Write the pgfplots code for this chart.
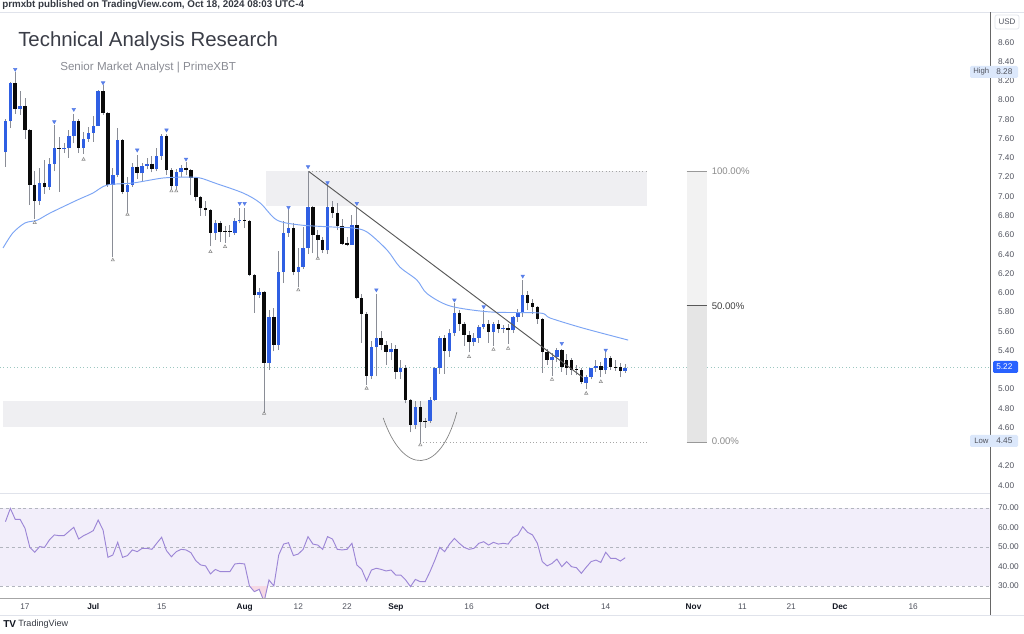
\documentclass[border=0pt]{standalone}
\usepackage{fontspec}
\setmainfont{Liberation Sans}
\usepackage{pgfplots}
\pgfplotsset{compat=1.18}
\usepackage{pgfplotstable}

\definecolor{upc}{HTML}{2F5FE3}
\definecolor{dnc}{HTML}{0A0A0A}
\definecolor{wick}{HTML}{8A8D96}
\definecolor{ma}{HTML}{7BA4F4}
\definecolor{rsic}{HTML}{9C86D6}
\definecolor{rsifill}{HTML}{F2EEFA}
\definecolor{rsipink}{HTML}{F6D9E4}
\definecolor{zone}{HTML}{EFEFF2}
\definecolor{txt}{HTML}{131722}
\definecolor{lbl}{HTML}{50535E}
\definecolor{ttl}{HTML}{3A3D47}
\definecolor{sub}{HTML}{8A8C94}
\definecolor{dashc}{HTML}{B2B5BE}
\definecolor{sep}{HTML}{E0E3EB}
\definecolor{hlbox}{HTML}{DCE8FB}
\definecolor{pricebox}{HTML}{2962FF}
\definecolor{curline}{HTML}{9CC7C0}

% d O H L C
\pgfplotstableread{
d O H L C
-4 7.46 7.80 7.31 7.78
-3 7.78 8.19 7.71 8.18
-1 7.91 8.09 7.85 7.94
3 6.95 7.29 6.91 7.14
5 7.10 7.40 7.07 7.34
6 7.34 7.74 7.26 7.50
8 7.49 7.55 7.45 7.502
9 7.50 7.69 7.40 7.63
10 7.63 7.86 7.55 7.78
12 7.50 7.67 7.44 7.60
13 7.60 7.72 7.57 7.66
14 7.66 7.83 7.57 7.73
15 7.73 8.10 7.73 8.09
18 7.12 7.30 6.37 7.22
19 7.22 7.71 7.20 7.585
21 7.05 7.20 6.84 7.12
22 7.12 7.35 7.10 7.31
24 7.24 7.35 7.15 7.315
25 7.315 7.40 7.28 7.34
27 7.28 7.50 7.26 7.42
28 7.42 7.65 7.38 7.63
31 7.11 7.28 7.08 7.25
32 7.25 7.33 7.20 7.30
39 6.62 6.76 6.55 6.72
43 6.62 6.78 6.60 6.74
44 6.74 6.88 6.72 6.755
48 5.98 6.05 5.95 6.01
50 5.27 5.82 5.20 5.75
52 5.46 6.43 5.41 6.22
53 6.22 6.74 6.10 6.62
54 6.62 6.88 6.58 6.67
56 6.22 6.46 6.06 6.27
57 6.27 6.68 6.25 6.46
58 6.46 7.26 6.40 6.89
62 6.44 7.15 6.40 6.89
67 6.50 6.81 6.50 6.70
71 5.13 5.50 5.10 5.44
72 5.44 5.99 5.13 5.525
75 5.38 5.48 5.30 5.42
77 5.18 5.30 5.10 5.22
80 4.63 4.88 4.58 4.81
83 4.67 4.92 4.65 4.89
84 4.89 5.23 4.88 5.22
85 5.22 5.55 5.16 5.525
87 5.39 5.62 5.33 5.58
88 5.58 5.89 5.55 5.785
92 5.49 5.58 5.45 5.53
93 5.53 5.66 5.48 5.647
94 5.647 5.82 5.62 5.68
96 5.595 5.70 5.45 5.67
98 5.62 5.66 5.58 5.632
100 5.61 5.76 5.58 5.744
101 5.744 5.83 5.70 5.785
102 5.785 6.13 5.75 5.98
108 5.30 5.37 5.14 5.335
109 5.335 5.43 5.28 5.404
115 5.065 5.15 5.00 5.128
116 5.128 5.22 5.10 5.214
117 5.214 5.30 5.18 5.24
119 5.197 5.38 5.16 5.318
123 5.19 5.26 5.17 5.22
}\upc

\pgfplotstableread{
d O H L C
-2 8.18 8.29 7.86 7.91
0 7.94 8.02 7.60 7.69
1 7.69 7.70 6.91 7.12
2 7.12 7.26 6.77 6.95
4 7.14 7.38 7.03 7.10
7 7.50 7.62 7.05 7.488
11 7.78 7.80 7.45 7.50
16 8.09 8.16 7.85 7.87
17 7.87 7.88 7.10 7.12
20 7.585 7.60 7.03 7.05
23 7.31 7.43 7.18 7.24
26 7.34 7.42 7.25 7.28
29 7.63 7.65 7.22 7.27
30 7.27 7.30 7.08 7.11
33 7.30 7.36 7.22 7.27
34 7.27 7.28 7.01 7.19
35 7.19 7.20 6.95 6.99
36 6.99 7.00 6.80 6.88
37 6.88 6.95 6.80 6.86
38 6.86 6.87 6.48 6.62
40 6.72 6.74 6.53 6.63
41 6.642 6.69 6.52 6.63
42 6.642 6.70 6.58 6.63
45 6.755 6.88 6.67 6.74
46 6.745 6.76 6.17 6.18
47 6.18 6.19 5.79 5.98
49 6.01 6.02 4.75 5.27
51 5.75 5.84 5.39 5.46
55 6.67 6.72 6.18 6.22
59 6.89 6.90 6.41 6.60
60 6.60 6.65 6.36 6.55
61 6.55 6.58 6.41 6.44
63 6.89 6.95 6.78 6.83
64 6.83 6.93 6.65 6.69
65 6.69 6.77 6.50 6.51
66 6.52 6.58 6.48 6.50
68 6.70 6.89 5.93 5.94
69 5.94 5.99 5.48 5.78
70 5.78 5.80 5.04 5.13
73 5.525 5.60 5.40 5.46
74 5.46 5.50 5.25 5.38
76 5.42 5.46 5.10 5.18
78 5.22 5.25 4.85 4.89
79 4.89 4.90 4.55 4.63
81 4.81 4.88 4.45 4.66
82 4.672 4.70 4.60 4.66
86 5.525 5.56 5.16 5.39
89 5.785 5.82 5.60 5.68
90 5.68 5.70 5.45 5.56
91 5.56 5.60 5.38 5.49
95 5.68 5.72 5.48 5.595
97 5.67 5.72 5.58 5.62
99 5.632 5.67 5.47 5.61
103 5.98 6.02 5.82 5.89
104 5.89 5.93 5.78 5.855
105 5.855 5.86 5.68 5.723
106 5.723 5.74 5.17 5.387
107 5.387 5.42 5.25 5.30
110 5.404 5.42 5.18 5.23
111 5.30 5.36 5.15 5.214
112 5.30 5.32 5.15 5.197
113 5.207 5.25 5.15 5.195
114 5.197 5.22 5.05 5.076
118 5.24 5.28 5.12 5.20
120 5.318 5.34 5.20 5.225
121 5.232 5.30 5.19 5.22
122 5.23 5.27 5.12 5.19
}\dnc

\pgfplotstableread{
d p
-4.5 6.464
-2.5 6.62
0 6.724
2.5 6.753
5.1 6.826
10.7 6.962
13.9 7.034
16.8 7.118
22.1 7.139
28.3 7.191
33.2 7.200
35.9 7.191
38.9 7.139
44.7 7.035
48.2 6.931
51.6 6.755
56.4 6.703
63.1 6.682
67.2 6.672
70.1 6.630
74.2 6.443
76.8 6.267
80.3 6.132
82.4 5.990
87.1 5.862
95.3 5.800
105.5 5.789
107.6 5.737
114.3 5.633
123.6 5.508
}\matab

\pgfplotstableread{
d p
-2 8.32
6 7.776
10 7.904
16 8.18
23 7.482
29 7.69
33 7.388
44 6.928
45 6.928
54 6.886
58 7.309
62 7.143
68 6.928
72 6.03
88 5.924
94 5.854
102 6.173
110 5.474
119 5.404
}\hitab

\pgfplotstableread{
d p
2 6.727
12 7.385
18 6.339
21 6.814
30 7.056
31 7.056
38 6.426
41 6.478
49 4.747
56 6.028
60 6.357
70 5.007
81 4.42
91 5.335
96 5.411
99 5.422
108 5.10
115 4.955
118 5.076
}\lotab

\pgfplotstableread{
d r
-4 63.0
-3 69.8
-2 64.2
-1 64.2
0 59.6
1 49.8
2 47.3
3 50.2
4 49.8
5 53.6
6 56.2
7 55.8
8 55.8
9 58.0
10 60.1
11 54.1
12 55.8
13 57.0
14 58.4
15 63.8
16 58.7
17 44.7
18 45.9
19 52.4
20 44.7
21 45.6
22 48.5
23 47.6
24 49.3
25 49.3
26 48.8
27 51.9
28 55.0
29 48.1
30 45.0
31 47.6
32 48.8
33 48.5
34 47.1
35 43.0
36 40.8
37 40.3
38 36.2
39 38.5
40 37.4
41 37.4
42 37.4
43 41.3
44 41.6
45 41.3
46 30.0
47 27.1
48 28.3
49 22.0
50 33.1
51 30.0
52 45.9
53 51.5
54 52.2
55 45.6
56 46.4
57 48.8
58 55.3
59 51.5
60 51.0
61 48.8
62 55.3
63 54.1
64 48.8
65 48.5
66 48.8
67 51.9
68 40.8
69 38.5
70 32.6
71 38.2
72 39.1
73 38.5
74 37.7
75 38.2
76 35.6
77 35.6
78 33.1
79 29.7
80 33.4
81 32.2
82 32.2
83 37.4
84 43.3
85 49.8
86 47.6
87 51.5
88 54.4
89 51.9
90 49.8
91 48.8
92 49.3
93 51.9
94 52.7
95 51.0
96 52.4
97 51.5
98 51.9
99 51.5
100 54.8
101 56.2
102 60.4
103 57.5
104 56.2
105 51.9
106 42.5
107 40.3
108 41.6
109 43.8
110 39.9
111 42.5
112 39.9
113 39.4
114 36.5
115 39.6
116 42.5
117 43.3
118 42.1
119 47.3
120 44.2
121 44.2
122 42.8
123 44.5
}\rsitab

\begin{document}
\begin{tikzpicture}
\useasboundingbox (0,0) rectangle (768pt,475.5pt);
\fill[white] (0,0) rectangle (768pt,475.5pt);

% ---------------- price pane ----------------
\begin{axis}[
  at={(0pt,105.75pt)}, anchor=south west,
  width=742.5pt, height=360.75pt, scale only axis,
  xmin=-5.12, xmax=197.75, ymin=3.92, ymax=8.915,
  axis line style={draw=none},
  xtick=\empty,
  ytick={4.0,4.2,4.6,4.8,5.0,5.4,5.6,5.8,6.0,6.2,6.4,6.6,6.8,7.0,7.2,7.4,7.6,7.8,8.0,8.2,8.4,8.6},
  yticklabels={4.00,4.20,4.60,4.80,5.00,5.40,5.60,5.80,6.00,6.20,6.40,6.60,6.80,7.00,7.20,7.40,7.60,7.80,8.00,8.20,8.40,8.60},
  yticklabel pos=right,
  major tick length=0pt,
  yticklabel style={font=\fontsize{6.2}{7}\selectfont, text=lbl, anchor=west, xshift=2.5pt},
  /pgf/number format/assume math mode=true,
  clip=true,
]
% zones
\fill[zone] (axis cs:49.4,6.90) rectangle (axis cs:127.5,7.264);
\fill[zone] (axis cs:-4.5,4.605) rectangle (axis cs:123.6,4.875);
\draw[gray!70, dotted, line width=0.5pt] (axis cs:58.2,7.264) -- (axis cs:127.5,7.264);
\draw[gray!70, dotted, line width=0.5pt] (axis cs:80.9,4.45) -- (axis cs:128,4.45);
\draw[curline, dotted, line width=0.6pt] (axis cs:-5.12,5.22) -- (axis cs:197.75,5.22);

% gauge
\fill[black!5] (axis cs:135.6,5.864) rectangle (axis cs:139.7,7.264);
\fill[black!10] (axis cs:135.6,4.45) rectangle (axis cs:139.7,5.864);
\draw[black!40, line width=0.6pt] (axis cs:135.6,7.264) -- (axis cs:139.7,7.264);
\draw[black!40, line width=0.6pt] (axis cs:135.6,4.45) -- (axis cs:139.7,4.45);
\draw[black!65, line width=0.7pt] (axis cs:135.6,5.864) -- (axis cs:139.7,5.864);

% wicks
\addplot[wick, line width=0.7pt, quiver={u=0, v=\thisrow{H}-\thisrow{L}}] table[x=d, y=L] {\upc};
\addplot[wick, line width=0.7pt, quiver={u=0, v=\thisrow{H}-\thisrow{L}}] table[x=d, y=L] {\dnc};
% bodies
\addplot[upc, line width=2.6pt, quiver={u=0, v=\thisrow{C}-\thisrow{O}}] table[x=d, y=O] {\upc};
\addplot[dnc, line width=2.6pt, quiver={u=0, v=\thisrow{C}-\thisrow{O}}] table[x=d, y=O] {\dnc};

% moving average
\addplot[ma, line width=0.7pt, smooth] table[x=d, y=p] {\matab};

% trend line
\draw[black!65, line width=0.7pt] (axis cs:58.2,7.257) -- (axis cs:114.3,5.12);

% arc
\draw[black!50, line width=0.5pt] (axis cs:73.4,4.70) .. controls (axis cs:77.5,4.10) and (axis cs:85.0,4.10) .. (axis cs:88.5,4.76);

% pivot markers
\addplot[only marks, mark=triangle*, mark size=1.5pt, mark options={rotate=180, fill=upc!80, draw=upc!80}] table[x=d, y=p] {\hitab};
\addplot[only marks, mark=triangle, mark size=1.4pt, mark options={draw=black!45, line width=0.4pt}] table[x=d, y=p] {\lotab};
\end{axis}

% ---------------- RSI pane ----------------
\begin{axis}[
  at={(0pt,27pt)}, anchor=south west,
  width=742.5pt, height=77.25pt, scale only axis,
  xmin=-5.12, xmax=197.75, ymin=23.85, ymax=76.67,
  axis line style={draw=none},
  ytick={30,40,50,60,70},
  yticklabels={30.00,40.00,50.00,60.00,70.00},
  yticklabel pos=right,
  xtick={0,14,28,45,56,66,76,91,106,119,137,147,157,167,182},
  xticklabels={17,\textbf{\color{txt}Jul},15,\textbf{\color{txt}Aug},12,22,\textbf{\color{txt}Sep},16,\textbf{\color{txt}Oct},14,\textbf{\color{txt}Nov},11,21,\textbf{\color{txt}Dec},16},
  major tick length=0pt,
  yticklabel style={font=\fontsize{6.2}{7}\selectfont, text=lbl, anchor=west, xshift=2.5pt},
  xticklabel style={font=\fontsize{6.2}{7}\selectfont, text=lbl, yshift=-0.5pt},
  /pgf/number format/assume math mode=true,
  clip=true,
]
\fill[rsifill] (axis cs:-5.12,30) rectangle (axis cs:197.75,70);
\draw[dashc, dash pattern=on 2.2pt off 2.2pt, line width=0.5pt] (axis cs:-5.12,70) -- (axis cs:197.75,70);
\draw[dashc, dash pattern=on 2.2pt off 2.2pt, line width=0.5pt] (axis cs:-5.12,50) -- (axis cs:197.75,50);
\draw[dashc, dash pattern=on 2.2pt off 2.2pt, line width=0.5pt] (axis cs:-5.12,30) -- (axis cs:197.75,30);
\addplot[fill=rsipink, draw=none] coordinates {(46,30) (47,27.1) (48,28.3) (49,22) (49.72,30)};
\addplot[rsic, line width=0.7pt] table[x=d, y=r] {\rsitab};
\end{axis}

% ---------------- decorations in pixel coordinates ----------------
\begin{scope}[x=0.75pt, y=-0.75pt, yshift=475.5pt]
  \draw[sep, line width=0.6pt] (0,12.3) -- (1024,12.3);
  \draw[sep, line width=0.6pt] (0,493.5) -- (990,493.5);
  \draw[black!35, line width=0.7pt] (0,598.5) -- (990,598.5);
  \draw[sep, line width=0.6pt] (0,615) -- (1024,615);
  \draw[black!60, line width=0.6pt] (990.5,12.3) -- (990.5,615);

  % header texts
  \node[anchor=base west, inner sep=0, font=\fontsize{7.35}{8}\selectfont\bfseries, text=txt!85] at (2,8) {prmxbt published on TradingView.com, Oct 18, 2024 08:03 UTC-4};
  \node[anchor=base west, inner sep=0, font=\fontsize{15.3}{17}\selectfont, text=ttl] at (18,47) {Technical Analysis Research};
  \node[anchor=base west, inner sep=0, font=\fontsize{8.7}{10}\selectfont, text=sub] at (60,71) {Senior Market Analyst | PrimeXBT};

  % gauge labels
  \node[anchor=west, inner sep=0, font=\fontsize{7.2}{8}\selectfont, text=black!45] at (711.5,171) {100.00\%};
  \node[anchor=west, inner sep=0, font=\fontsize{7.2}{8}\selectfont, text=black!75] at (711.5,306) {50.00\%};
  \node[anchor=west, inner sep=0, font=\fontsize{7.2}{8}\selectfont, text=black!45] at (711.5,441) {0.00\%};

  % USD box
  \draw[sep, fill=white, rounded corners=1.5pt, line width=0.5pt] (995,15) rectangle (1019,29);
  \node[inner sep=0, font=\fontsize{6}{7}\selectfont, text=lbl] at (1007,22) {USD};

  % High / Low / current boxes
  \fill[hlbox, rounded corners=1pt] (970,66) rectangle (1018,78);
  \node[anchor=west, inner sep=0, font=\fontsize{5.8}{6}\selectfont, text=lbl] at (973,72) {High};
  \node[anchor=west, inner sep=0, font=\fontsize{6.2}{7}\selectfont, text=lbl] at (996,72) {8.28};
  \fill[hlbox, rounded corners=1pt] (970,435) rectangle (1018,447);
  \node[anchor=west, inner sep=0, font=\fontsize{5.8}{6}\selectfont, text=lbl] at (974,441) {Low};
  \node[anchor=west, inner sep=0, font=\fontsize{6.2}{7}\selectfont, text=lbl] at (996,441) {4.45};
  \fill[pricebox, rounded corners=1pt] (993,361) rectangle (1018,373);
  \node[anchor=west, inner sep=0, font=\fontsize{6.2}{7}\selectfont, text=white] at (996,367) {5.22};

  % footer logo
  \node[anchor=west, inner sep=0, font=\fontsize{7.5}{8}\selectfont\bfseries, text=txt] at (3,624) {TV};
  \node[anchor=west, inner sep=0, font=\fontsize{6.8}{8}\selectfont, text=txt!85] at (18,624) {TradingView};
\end{scope}
\end{tikzpicture}
\end{document}
